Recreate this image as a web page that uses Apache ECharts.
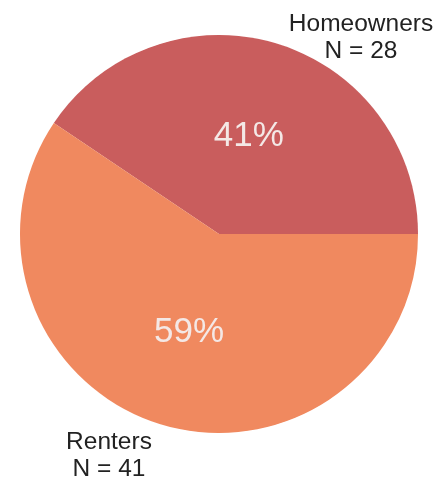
<!DOCTYPE html>
<html>
<head>
<meta charset="utf-8">
<script src="https://cdn.jsdelivr.net/npm/echarts@6/dist/echarts.min.js"></script>
<style>
  html, body { margin: 0; padding: 0; background: #ffffff; }
  #chart { width: 447px; height: 479px; }
</style>
</head>
<body>
<div id="chart"></div>
<script>
// Household tenure split
var categories = ['Homeowners', 'Renters'];
var counts = [28, 41];
var sliceColors = ['#c95d5d', '#f0895f'];

var pieData = categories.map(function (name, i) {
  return { name: name, value: counts[i], itemStyle: { color: sliceColors[i] } };
});

// Anchor points for the outside name/count labels
var outsideLabelPos = [
  { x: 361, y: 38 },
  { x: 109, y: 456 }
];

var chart = echarts.init(document.getElementById('chart'), null, { renderer: 'canvas' });

var baseSeries = {
  type: 'pie',
  center: [219, 234],
  radius: [0, 199],
  startAngle: 0,
  clockwise: false,
  percentPrecision: 0,
  silent: true,
  animation: false,
  data: pieData
};

chart.setOption({
  backgroundColor: '#ffffff',
  series: [
    Object.assign({}, baseSeries, {
      itemStyle: { borderColor: '#ffffff', borderWidth: 1.5 },
      label: {
        show: true,
        position: 'inside',
        formatter: '{d}%',
        color: '#f4e8e6',
        fontFamily: 'Liberation Sans, Arial, sans-serif',
        fontSize: 35
      },
      labelLine: { show: false }
    }),
    Object.assign({}, baseSeries, {
      itemStyle: { color: 'rgba(0,0,0,0)', borderWidth: 0 },
      label: {
        show: true,
        position: 'outside',
        formatter: function (p) { return p.name + '\nN = ' + p.value; },
        color: '#222222',
        fontFamily: 'Liberation Sans, Arial, sans-serif',
        fontSize: 24.5,
        lineHeight: 27,
        align: 'center',
        overflow: 'none',
        width: 200
      },
      labelLine: { show: false },
      labelLayout: function (params) {
        var pos = outsideLabelPos[params.dataIndex];
        return { x: pos.x, y: pos.y, align: 'center', verticalAlign: 'middle', moveOverlap: false };
      }
    })
  ]
});
</script>
</body>
</html>
